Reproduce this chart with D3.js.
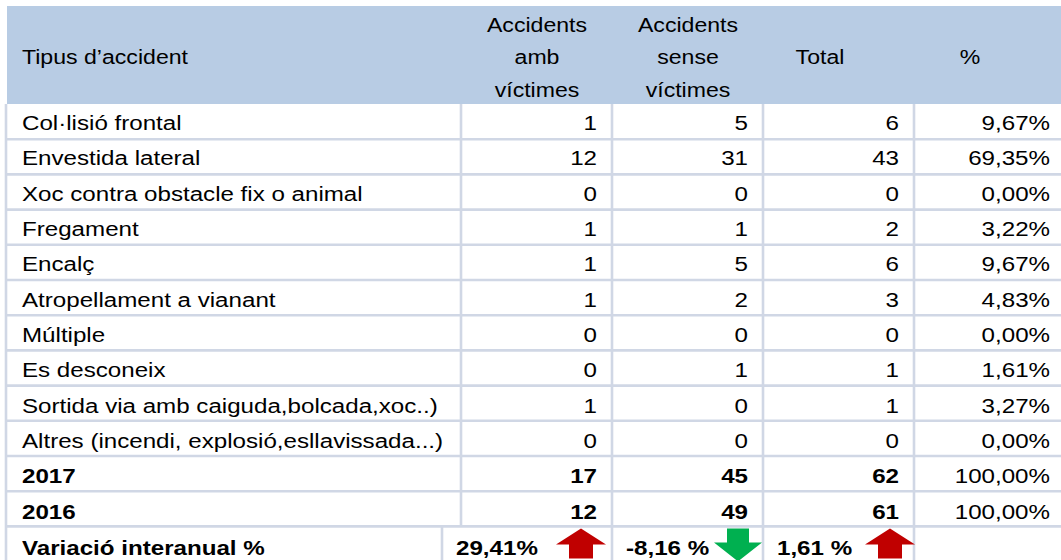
<!DOCTYPE html>
<html><head><meta charset="utf-8">
<script src="https://cdn.jsdelivr.net/npm/d3@7"></script>
<style>body{margin:0;background:#fff;}svg{display:block;font-family:"Liberation Sans",Arial,sans-serif;}</style>
</head><body><svg id="c" width="1061" height="560"></svg>
<script>
const headers = [["Tipus d\u2019accident"], ["Accidents","amb","víctimes"], ["Accidents","sense","víctimes"], ["Total"], ["%"]];
const categories = ["Col·lisió frontal","Envestida lateral","Xoc contra obstacle fix o animal","Fregament","Encalç","Atropellament a vianant","Múltiple","Es desconeix","Sortida via amb caiguda,bolcada,xoc..)","Altres (incendi, explosió,esllavissada...)"];
const withVictims = [1,12,0,1,1,1,0,0,1,0];
const withoutVictims = [5,31,0,1,5,2,0,1,0,0];
const totals = [6,43,0,2,6,3,0,1,1,0];
const percents = ["9,67%","69,35%","0,00%","3,22%","9,67%","4,83%","0,00%","1,61%","3,27%","0,00%"];
const years = ["2017","2016"];
const yearWith = [17,12];
const yearWithout = [45,49];
const yearTotal = [62,61];
const yearPct = ["100,00%","100,00%"];
const variationLabel = "Variació interanual %";
const variationValues = ["29,41%","-8,16 %","1,61 %"];
const variationDir = ["up","down","up"];

const svg = d3.select("#c");
const grid = "#D0D7E5", headBg = "#B8CCE4";
const FS = 21, SX = 1.15;
const colEdges = [6, 461, 612, 763, 914, 1061];
const headTop = 6, headBottom = 104, rowH = 35.2;
const nRows = categories.length + years.length;
const y = d3.scaleLinear().domain([0, nRows + 1]).range([headBottom, headBottom + (nRows + 1) * rowH]);

function label(parent, tx, ty, str, anchor, bold, sx) {
  return parent.append("g").attr("transform", `translate(${tx},${ty}) scale(${sx || SX},1)`)
    .append("text").attr("x", 0).attr("y", 0).attr("dy", "0.35em").attr("font-size", FS)
    .attr("fill", "#000").attr("text-anchor", anchor || "start")
    .attr("font-weight", bold ? "bold" : "normal").text(str);
}

// header
svg.append("rect").attr("x", 7).attr("y", headTop).attr("width", 1061-7).attr("height", headBottom-headTop).attr("fill", headBg);
const headX = [22, 537, 688, 820, 970];
headers.forEach((lines, i) => {
  const n = lines.length, lh = 32.5, cy = 57;
  lines.forEach((l, k) => {
    label(svg, headX[i], cy + (k - (n-1)/2) * lh, l, i === 0 ? "start" : "middle", false, 1.1);
  });
});

// body rows
const rows = categories.map((c, i) => ({label: c, vals: [withVictims[i], withoutVictims[i], totals[i]], pct: percents[i], bold: false}))
  .concat(years.map((c, i) => ({label: c, vals: [yearWith[i], yearWithout[i], yearTotal[i]], pct: yearPct[i], bold: true})));

const g = svg.append("g");
rows.forEach((r, i) => {
  const cy = (y(i) + y(i+1)) / 2 + 1 + i * 0.15;
  label(g, 22, cy, r.label, "start", r.bold);
  r.vals.forEach((v, j) => label(g, colEdges[j+2] - 15, cy, v, "end", r.bold));
  label(g, colEdges[5] - 11, cy, r.pct, "end", false);
});

// grid lines
const gl = svg.append("g").attr("stroke", grid).attr("stroke-width", 2.6);
d3.range(1, nRows + 1).forEach(i => {
  gl.append("line").attr("x1", 5).attr("x2", 1061).attr("y1", y(i)).attr("y2", y(i));
});
gl.append("line").attr("x1", 6).attr("x2", 6).attr("y1", headBottom).attr("y2", 560);
colEdges.slice(1,5).forEach(cx => {
  gl.append("line").attr("x1", cx).attr("x2", cx).attr("y1", headBottom).attr("y2", y(nRows));
});
const varEdges = [442, 612, 763, 914];
varEdges.forEach(cx => {
  gl.append("line").attr("x1", cx).attr("x2", cx).attr("y1", y(nRows)).attr("y2", 560);
});

// variation row
const vy = y(nRows) + 21;
label(svg, 22, vy, variationLabel, "start", true);
const arrowOff = [31, 25, 24];
variationValues.forEach((v, k) => {
  label(svg, varEdges[k] + 14, vy, v, "start", true);
  const ax = varEdges[k+1] - arrowOff[k];
  const top = y(nRows) + 2;
  let pts;
  if (variationDir[k] === "up") {
    pts = [[ax, top], [ax+25, top+16], [ax+12, top+16], [ax+12, top+30], [ax-12, top+30], [ax-12, top+16], [ax-25, top+16]];
    svg.append("polygon").attr("points", pts.map(p => p.join(",")).join(" ")).attr("fill", "#C00000");
  } else {
    pts = [[ax-11, top], [ax+11, top], [ax+11, top+14], [ax+24, top+14], [ax, top+33], [ax-24, top+14], [ax-11, top+14]];
    svg.append("polygon").attr("points", pts.map(p => p.join(",")).join(" ")).attr("fill", "#00B050");
  }
});
</script></body></html>
